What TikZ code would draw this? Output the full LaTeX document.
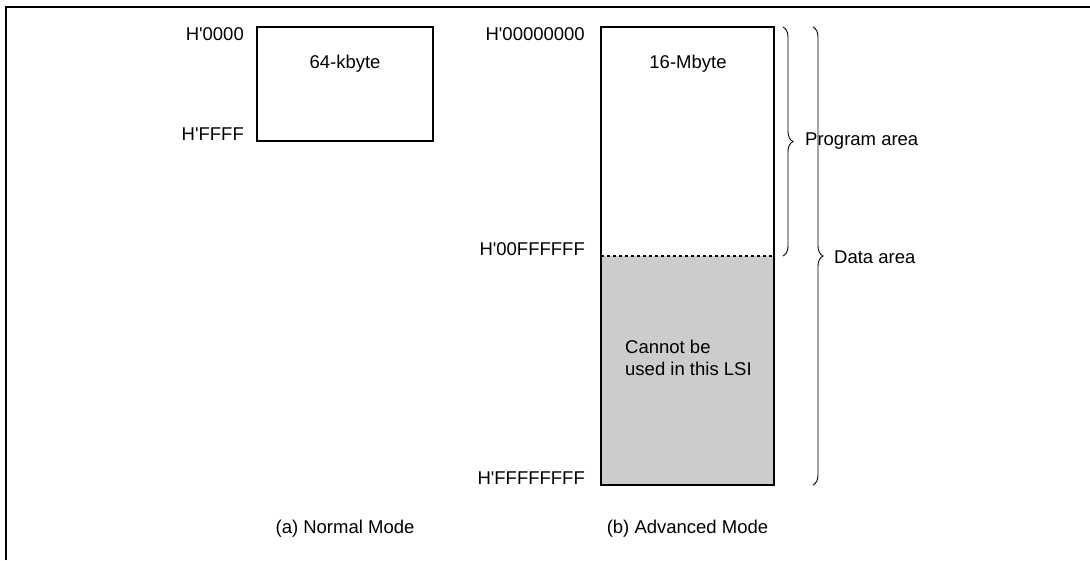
\documentclass[tikz,border=0pt]{standalone}
\usepackage{fontspec}
\setmainfont{Liberation Sans}
\usetikzlibrary{decorations.pathreplacing}
\newcommand{\hq}{H\textquotesingle}
\begin{document}
\begin{tikzpicture}[x=1pt,y=-1pt,
  every node/.style={font=\fontsize{18.5}{22}\selectfont, inner sep=0pt},
  membox/.style={draw, line width=2.8pt, minimum width=0pt},
  addr/.style={anchor=east},
  bracestyle/.style={decorate, decoration={brace, amplitude=10pt}, line width=0.9pt},
  frameline/.style={line width=2.6pt}]
\useasboundingbox (0,0) rectangle (1090,560);
% frame
\draw[frameline] (6,560) -- (6,7) -- (1090,7);
% normal mode
\node[membox, minimum width=176pt, minimum height=114pt] (nbox) at (345,84) {};
\node (nsize) at (345,64) {64-kbyte};
\node[addr] (n0) at (244,34) {\hq 0000};
\node[addr] (n1) at (244,134) {\hq FFFF};
% advanced mode
\coordinate (atl) at (601,27);
\coordinate (abr) at (774,485);
\coordinate (adl) at (601,256);
\coordinate (adr) at (774,256);
\fill[black!20] (adl) rectangle (abr);
\draw[dashed, line width=1.1pt] (adl) -- (adr);
\node[membox, minimum width=173pt, minimum height=458pt] (abox) at (687.5,256) {};
\node (asize) at (688,64) {16-Mbyte};
\node[addr] (a0) at (585,34) {\hq 00000000};
\node[addr] (a1) at (585,249) {\hq 00FFFFFF};
\node[addr] (a2) at (585,478) {\hq FFFFFFFF};
\node[align=left, anchor=north west] (cannot) at (625,340) {Cannot be\\used in this LSI};
% braces
\coordinate (p0) at (783,27);
\coordinate (p1) at (783,256);
\coordinate (d0) at (813,27);
\coordinate (d1) at (813,485);
\draw[bracestyle] (p0) -- (p1);
\draw[bracestyle] (d0) -- (d1);
\node[anchor=west] (prog) at (805,141) {Program area};
\node[anchor=west] (data) at (834,257) {Data area};
% captions
\node (capa) at (345,529) {(a) Normal Mode};
\node (capb) at (687.5,529) {(b) Advanced Mode};
\end{tikzpicture}
\end{document}
